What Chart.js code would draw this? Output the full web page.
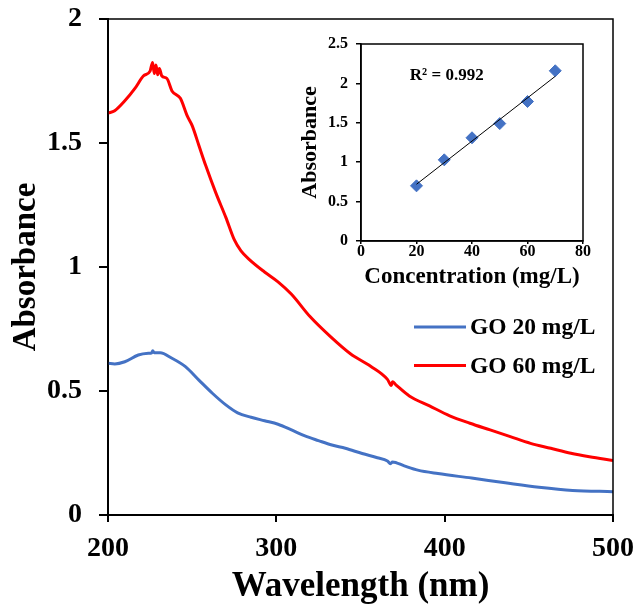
<!DOCTYPE html>
<html>
<head>
<meta charset="utf-8">
<title>GO absorbance spectra</title>
<script src="https://cdn.jsdelivr.net/npm/chart.js@4.4.1/dist/chart.umd.min.js"></script>
<style>
  html, body { margin: 0; padding: 0; background: #fff; }
  #wrap { position: relative; width: 639px; height: 608px; }
  #mainChart { position: absolute; left: 0; top: 0; }
  #insetChart { position: absolute; left: 296px; top: 26px; }
</style>
</head>
<body>
<div id="wrap">
  <canvas id="mainChart" width="639" height="608"></canvas>
  <canvas id="insetChart" width="300" height="266"></canvas>
</div>
<script>
// UV-vis spectra (wavelength in nm, absorbance)
const go20Wl  = [200, 204, 210, 218, 224, 226, 226.6, 227.5, 231, 238, 246, 254, 262, 270, 277, 285, 293, 301, 309, 317,
                 325, 333, 341, 351, 360, 366, 367.8, 369, 376, 384, 396, 416, 436, 456, 476, 500];
const go20Abs = [0.612, 0.609, 0.618, 0.645, 0.652, 0.654, 0.662, 0.654, 0.654, 0.632, 0.598, 0.544, 0.491, 0.444, 0.412,
                 0.394, 0.380, 0.366, 0.343, 0.319, 0.300, 0.282, 0.269, 0.248, 0.231, 0.218, 0.207, 0.214, 0.198, 0.181,
                 0.167, 0.149, 0.130, 0.112, 0.099, 0.094];

const go60Wl  = [200, 204, 210, 216, 221, 225, 226.5, 227.5, 228.5, 229.5, 230.5, 232, 235, 238, 243, 247, 250, 254, 258,
                 264, 270, 275, 279, 284, 293, 301, 309, 320, 332, 344, 356, 366, 368.3, 369, 371, 379, 391, 403, 415, 427,
                 439, 451, 463, 475, 486, 500];
const go60Abs = [1.62, 1.63, 1.67, 1.72, 1.77, 1.79, 1.825, 1.78, 1.815, 1.775, 1.80, 1.77, 1.76, 1.71, 1.68, 1.61, 1.57,
                 1.49, 1.41, 1.30, 1.20, 1.11, 1.065, 1.03, 0.98, 0.94, 0.89, 0.80, 0.72, 0.65, 0.60, 0.547, 0.522, 0.537,
                 0.525, 0.48, 0.44, 0.40, 0.37, 0.343, 0.316, 0.289, 0.269, 0.249, 0.235, 0.22];

// calibration (inset)
const concentrations = [20, 30, 40, 50, 60, 70];
const calibAbs       = [0.70, 1.03, 1.31, 1.49, 1.77, 2.16];
const trendConc      = [20, 70];
const trendAbs       = [0.72, 2.09];
const fitText        = 'R\u00b2 = 0.992';

const seriesLabels = ['GO 20 mg/L', 'GO 60 mg/L'];
const seriesColors = ['#4472C4', '#FF0000'];

const serif = "'Liberation Serif', 'Times New Roman', serif";
const toPoints = (xs, ys) => xs.map((x, i) => ({ x: x, y: ys[i] }));
const plainNumber = value => String(value);

// closes the plot area with a thin box
const frameBox = {
  id: 'frameBox',
  afterDraw(chart, args, opts) {
    const { ctx, chartArea: a } = chart;
    ctx.save();
    ctx.strokeStyle = '#000';
    ctx.lineWidth = opts.width;
    ctx.strokeRect(a.left, a.top, a.right - a.left, a.bottom - a.top);
    ctx.restore();
  }
};

// simple line + label legend sitting inside the plot
const lineLegend = {
  id: 'lineLegend',
  afterDatasetsDraw(chart, args, opts) {
    if (!opts.show) return;
    const { ctx, chartArea: a } = chart;
    ctx.save();
    ctx.font = opts.font;
    ctx.textBaseline = 'middle';
    ctx.textAlign = 'left';
    ctx.fillStyle = '#000';
    chart.data.datasets.forEach((ds, i) => {
      const y = a.top + opts.top + i * opts.rowGap;
      const x = a.right - opts.right;
      ctx.strokeStyle = ds.borderColor;
      ctx.lineWidth = ds.borderWidth;
      ctx.beginPath();
      ctx.moveTo(x, y);
      ctx.lineTo(x + opts.lineLen, y);
      ctx.stroke();
      ctx.fillText(ds.label, x + opts.lineLen + 4, y + 1);
    });
    ctx.restore();
  }
};

// R² annotation placed in data coordinates
const fitLabel = {
  id: 'fitLabel',
  afterDatasetsDraw(chart, args, opts) {
    if (!opts.text) return;
    const { ctx, scales: { x, y } } = chart;
    ctx.save();
    ctx.font = opts.font;
    ctx.fillStyle = '#000';
    ctx.textBaseline = 'middle';
    ctx.textAlign = 'left';
    ctx.fillText(opts.text, x.getPixelForValue(opts.at[0]), y.getPixelForValue(opts.at[1]));
    ctx.restore();
  }
};

new Chart(document.getElementById('mainChart'), {
  type: 'line',
  data: {
    datasets: [
      {
        label: seriesLabels[0],
        data: toPoints(go20Wl, go20Abs),
        borderColor: seriesColors[0],
        borderWidth: 3,
        pointRadius: 0,
        cubicInterpolationMode: 'monotone'
      },
      {
        label: seriesLabels[1],
        data: toPoints(go60Wl, go60Abs),
        borderColor: seriesColors[1],
        borderWidth: 3,
        pointRadius: 0,
        cubicInterpolationMode: 'monotone'
      }
    ]
  },
  options: {
    responsive: false,
    animation: false,
    layout: { padding: { top: 19, right: 26, left: 0, bottom: 0 } },
    scales: {
      x: {
        type: 'linear',
        min: 200,
        max: 500,
        ticks: { stepSize: 100, color: '#000', padding: 10, maxRotation: 0, callback: plainNumber,
                 font: { family: serif, size: 28, weight: 'bold' } },
        grid: { drawOnChartArea: false, color: '#000', lineWidth: 2, tickLength: 7 },
        border: { color: '#000', width: 2 },
        title: { display: true, text: 'Wavelength (nm)', color: '#000', padding: { top: 0, bottom: 0 },
                 font: { family: serif, size: 35, weight: 'bold' } },
        afterFit(scale) {
          scale.height = 93;
          scale.paddingLeft = 0;
          scale.paddingRight = 0;
        }
      },
      y: {
        min: 0,
        max: 2,
        ticks: { stepSize: 0.5, color: '#000', padding: 17, callback: plainNumber,
                 font: { family: serif, size: 28, weight: 'bold' } },
        grid: { drawOnChartArea: false, color: '#000', lineWidth: 2, tickLength: 9 },
        border: { color: '#000', width: 2 },
        title: { display: true, text: 'Absorbance', color: '#000', padding: { top: 7, bottom: 0 },
                 font: { family: serif, size: 33, weight: 'bold' } },
        afterFit(scale) {
          scale.width = 108;
          scale.paddingTop = 0;
          scale.paddingBottom = 0;
        }
      }
    },
    plugins: {
      legend: { display: false },
      tooltip: { enabled: false },
      frameBox: { width: 1.5 },
      lineLegend: { show: true, top: 308, rowGap: 38.5, right: 199, lineLen: 52,
                    font: 'bold 23.5px ' + serif }
    }
  },
  plugins: [frameBox, lineLegend]
});

new Chart(document.getElementById('insetChart'), {
  type: 'scatter',
  data: {
    datasets: [
      {
        label: 'Linear fit',
        data: toPoints(trendConc, trendAbs),
        showLine: true,
        borderColor: '#000',
        borderWidth: 1,
        pointRadius: 0,
        order: 0
      },
      {
        label: 'Absorbance',
        data: toPoints(concentrations, calibAbs),
        pointStyle: 'rectRot',
        pointRadius: 6,
        backgroundColor: '#4472C4',
        borderColor: '#4472C4',
        borderWidth: 1,
        order: 1
      }
    ]
  },
  options: {
    responsive: false,
    animation: false,
    layout: { padding: { top: 18, right: 13, left: 0, bottom: 0 } },
    scales: {
      x: {
        type: 'linear',
        min: 0,
        max: 80,
        ticks: { stepSize: 20, color: '#000', padding: -2, maxRotation: 0,
                 font: { family: serif, size: 16, weight: 'bold' } },
        grid: { drawOnChartArea: false, color: '#000', lineWidth: 1.5, tickLength: 3 },
        border: { color: '#000', width: 1.5 },
        title: { display: true, text: 'Concentration (mg/L)', color: '#000', padding: { top: 0, bottom: 1.5 },
                 font: { family: serif, size: 23, weight: 'bold' } },
        afterFit(scale) { scale.height = 51; }
      },
      y: {
        min: 0,
        max: 2.5,
        ticks: { stepSize: 0.5, color: '#000', padding: 8, callback: plainNumber,
                 font: { family: serif, size: 16, weight: 'bold' } },
        grid: { drawOnChartArea: false, color: '#000', lineWidth: 1.5, tickLength: 5 },
        border: { color: '#000', width: 1.5 },
        title: { display: true, text: 'Absorbance', color: '#000', padding: { top: 1, bottom: 0 },
                 font: { family: serif, size: 22, weight: 'bold' } },
        afterFit(scale) { scale.width = 65; }
      }
    },
    plugins: {
      legend: { display: false },
      tooltip: { enabled: false },
      frameBox: { width: 1.5 },
      fitLabel: { text: fitText, at: [17.6, 2.1], font: 'bold 17px ' + serif }
    }
  },
  plugins: [frameBox, fitLabel]
});
</script>
</body>
</html>
